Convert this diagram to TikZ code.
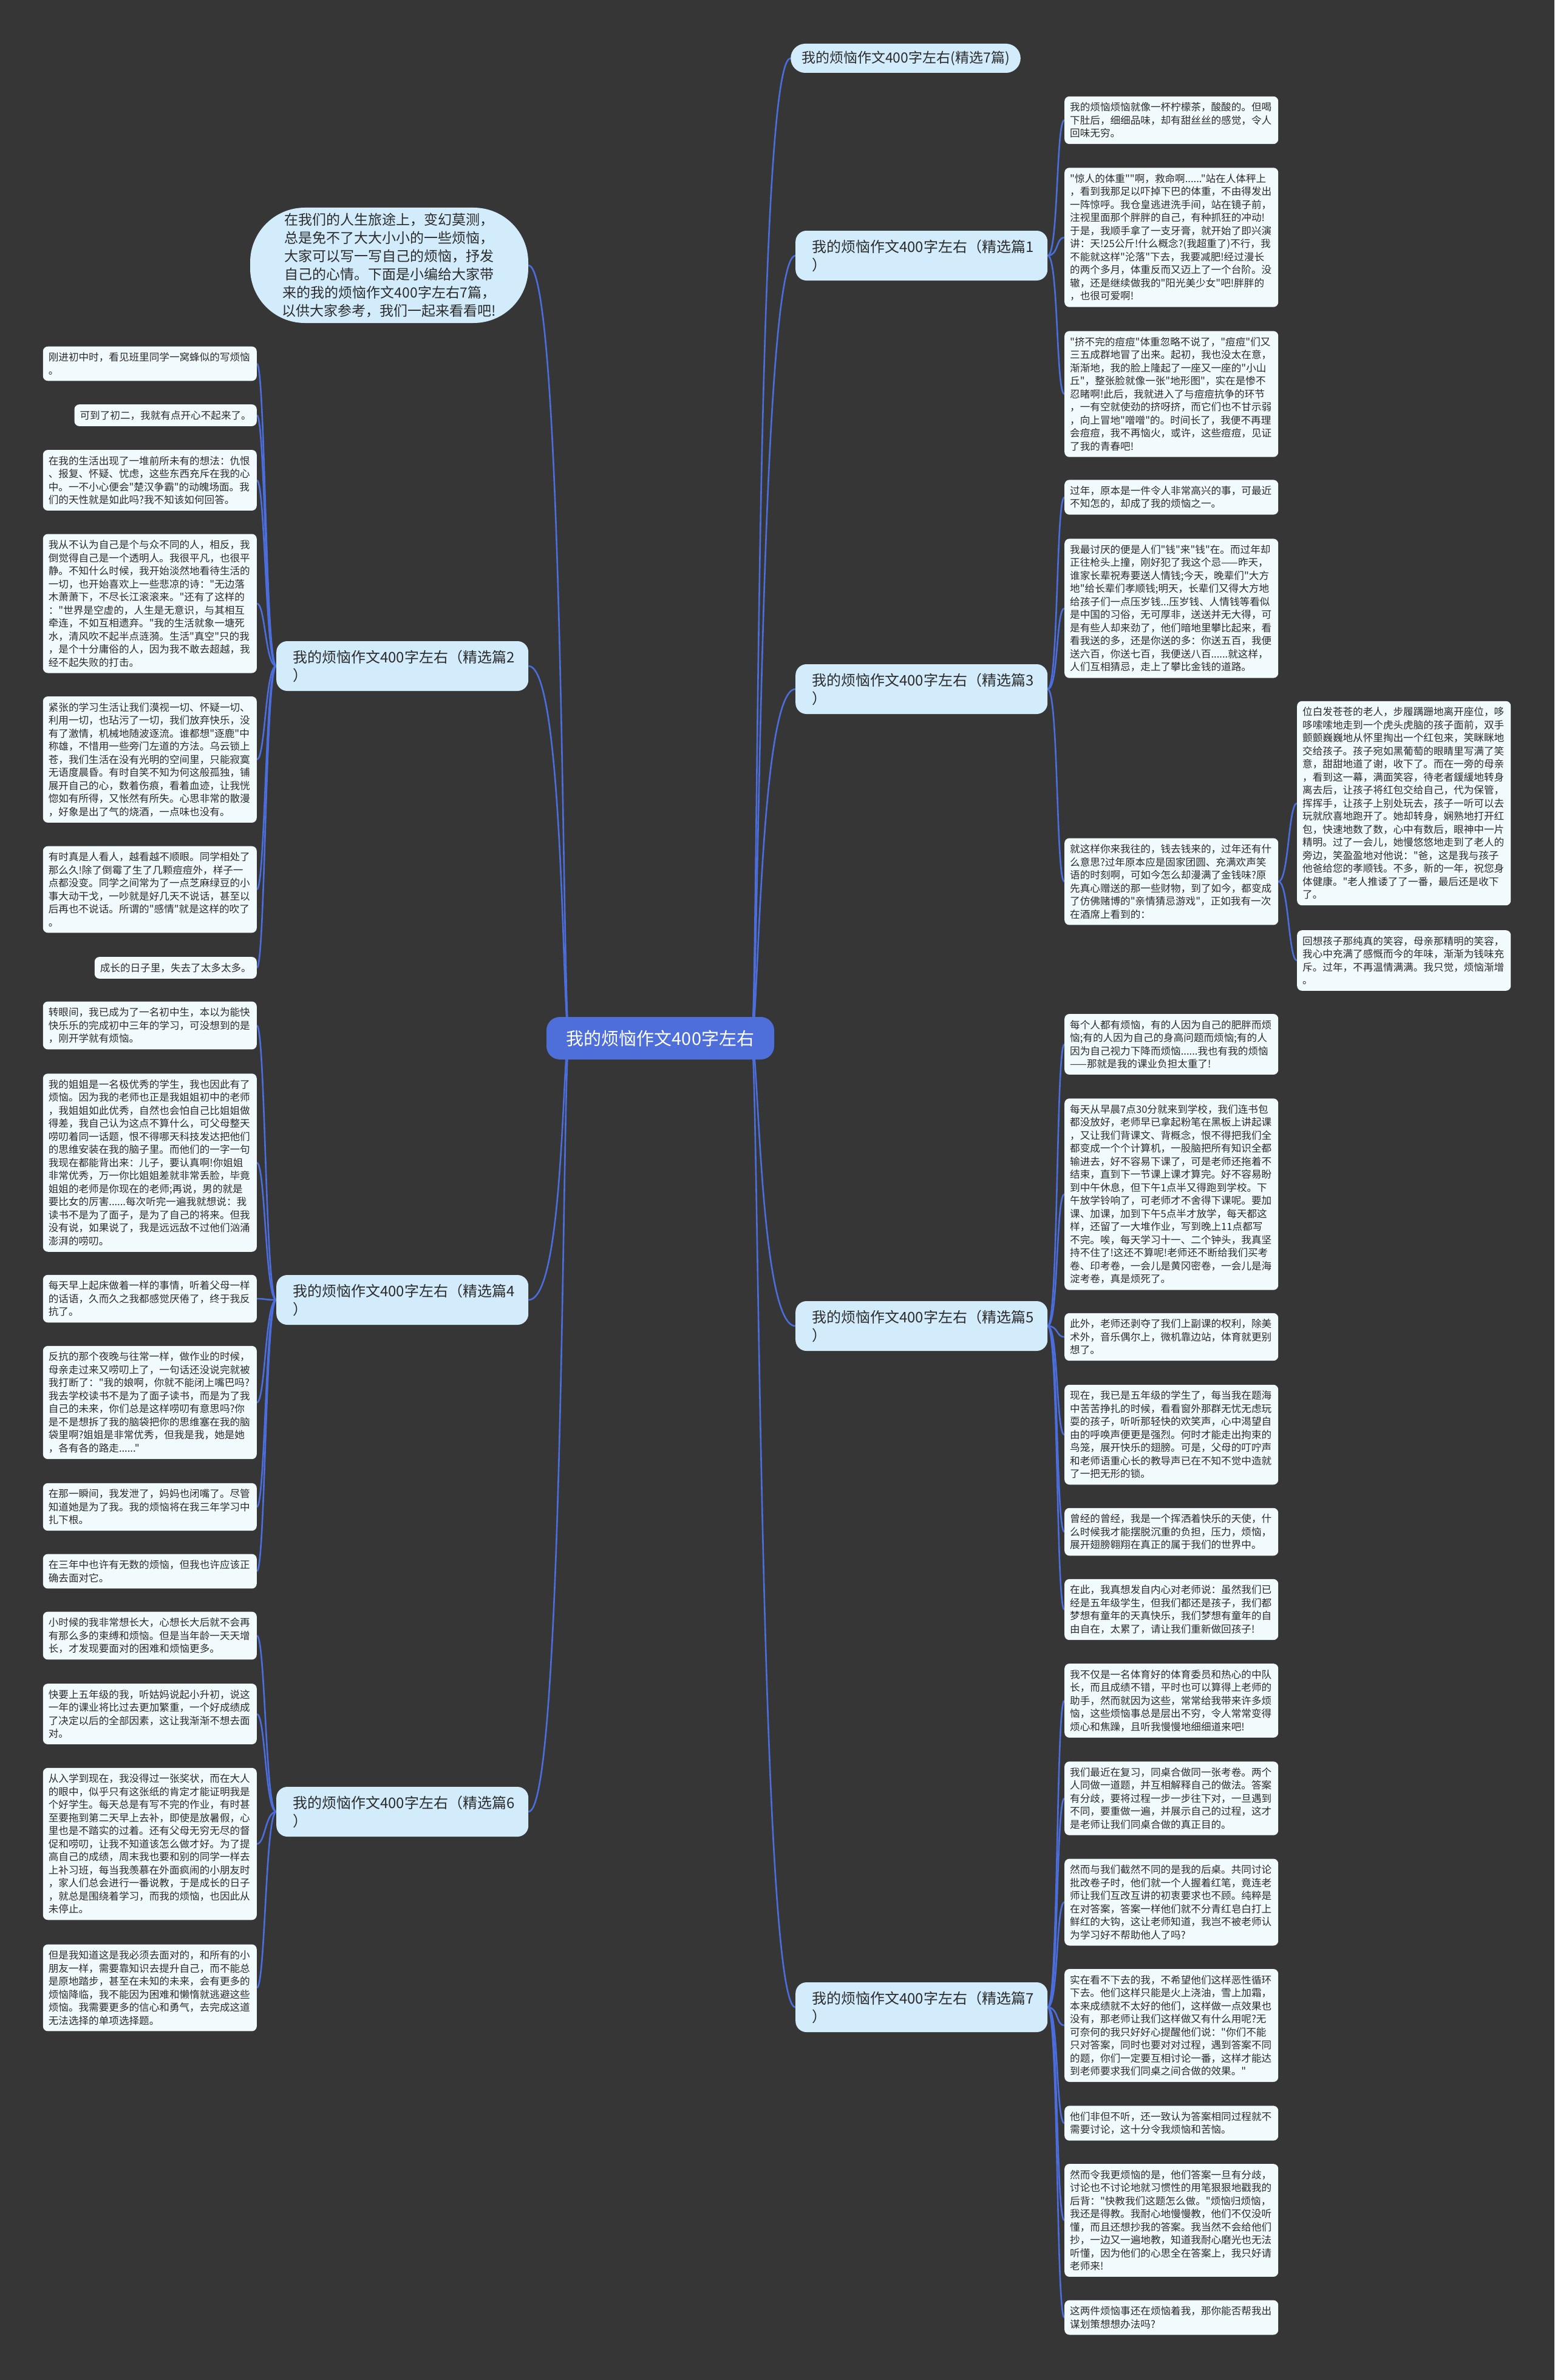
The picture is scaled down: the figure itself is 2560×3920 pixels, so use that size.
\documentclass[tikz,border=0pt]{standalone}
\usepackage{fontspec}
\newfontfamily\cjk{Noto Sans CJK SC}
\usetikzlibrary{calc}
\pgfdeclarelayer{bg}\pgfdeclarelayer{edges}
\pgfsetlayers{bg,edges,main}
\definecolor{bgc}{HTML}{363636}
\definecolor{leafc}{HTML}{F1FAFD}
\definecolor{catc}{HTML}{D2ECFB}
\definecolor{rootc}{HTML}{4E6FDA}
\definecolor{linec}{HTML}{4C6EDD}
\definecolor{textc}{HTML}{2B2B2B}
\newcommand\leaffont{\cjk\fontsize{16.6}{21.5}\selectfont}
\newcommand\catfont{\cjk\fontsize{24}{30}\selectfont}
\newcommand\topfont{\cjk\fontsize{23}{30}\selectfont}
\newcommand\rootfont{\cjk\fontsize{29}{34}\selectfont}
\newcommand\introfont{\cjk\fontsize{23}{30}\selectfont}
\tikzset{
  leaf/.style={fill=leafc, rounded corners=8pt, text=textc, font=\leaffont, inner xsep=9pt, inner ysep=10pt, align=left, text width=334pt},
  leafn/.style={fill=leafc, rounded corners=8pt, text=textc, font=\leaffont, inner xsep=9pt, inner ysep=10pt},
  cat/.style={fill=catc, rounded corners=18pt, text=textc, font=\catfont, inner xsep=27pt, inner ysep=10pt, minimum height=82pt, align=left, text width=361pt},
  topn/.style={fill=catc, rounded corners=24pt, text=textc, font=\topfont, inner xsep=18pt, minimum height=48pt},
  rootn/.style={fill=rootc, rounded corners=22pt, text=white, font=\rootfont, minimum width=375pt, minimum height=70pt},
  intro/.style={fill=catc, rounded corners=90pt, text=textc, font=\introfont, minimum width=458pt, minimum height=190pt, text width=360pt, align=center},
  conn/.style={draw=linec, line width=2.6pt}
}
\begin{document}
\begin{tikzpicture}[x=1pt,y=-1pt]
\useasboundingbox (0,0) rectangle (2560,3920);
\begin{pgfonlayer}{bg}
\fill[bgc] (0,0) rectangle (2560,3920);
\end{pgfonlayer}

% root and main branches
\node[rootn] (root) at (1087.5,1710) {我的烦恼作文400字左右};
\node[topn, anchor=west] (k0) at (1302,96) {我的烦恼作文400字左右(精选7篇)};
\node[cat, anchor=west] (k1) at (1310,421) {我的烦恼作文400字左右（精选篇1\\）};
\node[cat, anchor=west] (k3) at (1310,1135) {我的烦恼作文400字左右（精选篇3\\）};
\node[cat, anchor=west] (k5) at (1310,2184) {我的烦恼作文400字左右（精选篇5\\）};
\node[cat, anchor=west] (k7) at (1310,3306) {我的烦恼作文400字左右（精选篇7\\）};
\node[cat, anchor=west] (k2) at (455,1097) {我的烦恼作文400字左右（精选篇2\\）};
\node[cat, anchor=west] (k4) at (455,2141) {我的烦恼作文400字左右（精选篇4\\）};
\node[cat, anchor=west] (k6) at (455,2984) {我的烦恼作文400字左右（精选篇6\\）};
\node[intro] (intro) at (641,437) {在我们的人生旅途上，变幻莫测，\\总是免不了大大小小的一些烦恼，\\大家可以写一写自己的烦恼，抒发\\自己的心情。下面是小编给大家带\\来的我的烦恼作文400字左右7篇，\\以供大家参考，我们一起来看看吧!};

% 篇1
\node[leaf, anchor=west] (a11) at (1753,198) {我的烦恼烦恼就像一杯柠檬茶，酸酸的。但喝\\下肚后，细细品味，却有甜丝丝的感觉，令人\\回味无穷。};
\node[leaf, anchor=west] (a12) at (1753,391) {"惊人的体重""啊，救命啊......"站在人体秤上\\，看到我那足以吓掉下巴的体重，不由得发出\\一阵惊呼。我仓皇逃进洗手间，站在镜子前，\\注视里面那个胖胖的自己，有种抓狂的冲动!\\于是，我顺手拿了一支牙膏，就开始了即兴演\\讲：天!25公斤!什么概念?(我超重了)不行，我\\不能就这样"沦落"下去，我要减肥!经过漫长\\的两个多月，体重反而又迈上了一个台阶。没\\辙，还是继续做我的"阳光美少女"吧!胖胖的\\，也很可爱啊!};
\node[leaf, anchor=west] (a13) at (1753,649) {"挤不完的痘痘"体重忽略不说了，"痘痘"们又\\三五成群地冒了出来。起初，我也没太在意，\\渐渐地，我的脸上隆起了一座又一座的"小山\\丘"，整张脸就像一张"地形图"，实在是惨不\\忍睹啊!此后，我就进入了与痘痘抗争的环节\\，一有空就使劲的挤呀挤，而它们也不甘示弱\\，向上冒地"噌噌"的。时间长了，我便不再理\\会痘痘，我不再恼火，或许，这些痘痘，见证\\了我的青春吧!};

% 篇3
\node[leaf, anchor=west] (a31) at (1753,819) {过年，原本是一件令人非常高兴的事，可最近\\不知怎的，却成了我的烦恼之一。};
\node[leaf, anchor=west] (a32) at (1753,1002) {我最讨厌的便是人们"钱"来"钱"在。而过年却\\正往枪头上撞，刚好犯了我这个忌——昨天，\\谁家长辈祝寿要送人情钱;今天，晚辈们"大方\\地"给长辈们孝顺钱;明天，长辈们又得大方地\\给孩子们一点压岁钱...压岁钱、人情钱等看似\\是中国的习俗，无可厚非，送送并无大得，可\\是有些人却来劲了，他们暗地里攀比起来，看\\看我送的多，还是你送的多：你送五百，我便\\送六百，你送七百，我便送八百......就这样，\\人们互相猜忌，走上了攀比金钱的道路。};
\node[leaf, anchor=west] (a33) at (1753,1452) {就这样你来我往的，钱去钱来的，过年还有什\\么意思?过年原本应是固家团圆、充满欢声笑\\语的时刻啊，可如今怎么却漫满了金钱味?原\\先真心赠送的那一些财物，到了如今，都变成\\了仿佛赌博的"亲情猜忌游戏"，正如我有一次\\在酒席上看到的：};
\node[leaf, anchor=west] (c1) at (2136,1323) {位白发苍苍的老人，步履蹒跚地离开座位，哆\\哆嗦嗦地走到一个虎头虎脑的孩子面前，双手\\颤颤巍巍地从怀里掏出一个红包来，笑眯眯地\\交给孩子。孩子宛如黑葡萄的眼睛里写满了笑\\意，甜甜地道了谢，收下了。而在一旁的母亲\\，看到这一幕，满面笑容，待老者鍰緩地转身\\离去后，让孩子将红包交给自己，代为保管，\\挥挥手，让孩子上别处玩去，孩子一听可以去\\玩就欣喜地跑开了。她却转身，娴熟地打开红\\包，快速地数了数，心中有数后，眼神中一片\\精明。过了一会儿，她慢悠悠地走到了老人的\\旁边，笑盈盈地对他说："爸，这是我与孩子\\他爸给您的孝顺钱。不多，新的一年，祝您身\\体健康。"老人推诿了了一番，最后还是收下\\了。};
\node[leaf, anchor=west] (c2) at (2136,1582) {回想孩子那纯真的笑容，母亲那精明的笑容，\\我心中充满了感慨而今的年味，渐渐为钱味充\\斥。过年，不再温情满满。我只觉，烦恼渐增\\。};

% 篇5
\node[leaf, anchor=west] (a51) at (1753,1720) {每个人都有烦恼，有的人因为自己的肥胖而烦\\恼;有的人因为自己的身高问题而烦恼;有的人\\因为自己视力下降而烦恼......我也有我的烦恼\\——那就是我的课业负担太重了!};
\node[leaf, anchor=west] (a52) at (1753,1967) {每天从早晨7点30分就来到学校，我们连书包\\都没放好，老师早已拿起粉笔在黑板上讲起课\\，又让我们背课文、背概念，恨不得把我们全\\都变成一个个计算机，一股脑把所有知识全都\\输进去，好不容易下课了，可是老师还拖着不\\结束，直到下一节课上课才算完。好不容易盼\\到中午休息，但下午1点半又得跑到学校。下\\午放学铃响了，可老师才不舍得下课呢。要加\\课、加课，加到下午5点半才放学，每天都这\\样，还留了一大堆作业，写到晚上11点都写\\不完。唉，每天学习十一、二个钟头，我真坚\\持不住了!这还不算呢!老师还不断给我们买考\\卷、印考卷，一会儿是黄冈密卷，一会儿是海\\淀考卷，真是烦死了。};
\node[leaf, anchor=west] (a53) at (1753,2202) {此外，老师还剥夺了我们上副课的权利，除美\\术外，音乐偶尔上，微机靠边站，体育就更别\\想了。};
\node[leaf, anchor=west] (a54) at (1753,2363) {现在，我已是五年级的学生了，每当我在题海\\中苦苦挣扎的时候，看看窗外那群无忧无虑玩\\耍的孩子，听听那轻快的欢笑声，心中渴望自\\由的呼唤声便更是强烈。何时才能走出拘束的\\鸟笼，展开快乐的翅膀。可是，父母的叮咛声\\和老师语重心长的教导声已在不知不觉中造就\\了一把无形的锁。};
\node[leaf, anchor=west] (a55) at (1753,2523) {曾经的曾经，我是一个挥洒着快乐的天使，什\\么时候我才能摆脱沉重的负担，压力，烦恼，\\展开翅膀翱翔在真正的属于我们的世界中。};
\node[leaf, anchor=west] (a56) at (1753,2651) {在此，我真想发自内心对老师说：虽然我们已\\经是五年级学生，但我们都还是孩子，我们都\\梦想有童年的天真快乐，我们梦想有童年的自\\由自在，太累了，请让我们重新做回孩子!};

% 篇7
\node[leaf, anchor=west] (a71) at (1753,2801) {我不仅是一名体育好的体育委员和热心的中队\\长，而且成绩不错，平时也可以算得上老师的\\助手，然而就因为这些，常常给我带来许多烦\\恼，这些烦恼事总是层出不穷，令人常常变得\\烦心和焦躁，且听我慢慢地细细道来吧!};
\node[leaf, anchor=west] (a72) at (1753,2962) {我们最近在复习，同桌合做同一张考卷。两个\\人同做一道题，并互相解释自己的做法。答案\\有分歧，要将过程一步一步往下对，一旦遇到\\不同，要重做一遍，并展示自己的过程，这才\\是老师让我们同桌合做的真正目的。};
\node[leaf, anchor=west] (a73) at (1753,3133) {然而与我们截然不同的是我的后桌。共同讨论\\批改卷子时，他们就一个人握着红笔，竟连老\\师让我们互改互讲的初衷要求也不顾。纯粹是\\在对答案，答案一样他们就不分青红皂白打上\\鲜红的大钩，这让老师知道，我岂不被老师认\\为学习好不帮助他人了吗?};
\node[leaf, anchor=west] (a74) at (1753,3336) {实在看不下去的我，不希望他们这样恶性循环\\下去。他们这样只能是火上浇油，雪上加霜，\\本来成绩就不太好的他们，这样做一点效果也\\没有，那老师让我们这样做又有什么用呢?无\\可奈何的我只好好心提醒他们说："你们不能\\只对答案，同时也要对对过程，遇到答案不同\\的题，你们一定要互相讨论一番，这样才能达\\到老师要求我们同桌之间合做的效果。"};
\node[leaf, anchor=west] (a75) at (1753,3497) {他们非但不听，还一致认为答案相同过程就不\\需要讨论，这十分令我烦恼和苦恼。};
\node[leaf, anchor=west] (a76) at (1753,3657) {然而令我更烦恼的是，他们答案一旦有分歧，\\讨论也不讨论地就习惯性的用笔狠狠地戳我的\\后背："快教我们这题怎么做。"烦恼归烦恼，\\我还是得教。我耐心地慢慢教，他们不仅没听\\懂，而且还想抄我的答案。我当然不会给他们\\抄，一边又一遍地教，知道我耐心磨光也无法\\听懂，因为他们的心思全在答案上，我只好请\\老师来!};
\node[leaf, anchor=west] (a77) at (1753,3817) {这两件烦恼事还在烦恼着我，那你能否帮我出\\谋划策想想办法吗?};

% 篇2
\node[leaf, anchor=east] (b21) at (423,599) {刚进初中时，看见班里同学一窝蜂似的写烦恼\\。};
\node[leafn, anchor=east] (b22) at (423,684) {可到了初二，我就有点开心不起来了。};
\node[leaf, anchor=east] (b23) at (423,791) {在我的生活出现了一堆前所未有的想法：仇恨\\、报复、怀疑、忧虑，这些东西充斥在我的心\\中。一不小心便会"楚汉争霸"的动魄场面。我\\们的天性就是如此吗?我不知该如何回答。};
\node[leaf, anchor=east] (b24) at (423,994) {我从不认为自己是个与众不同的人，相反，我\\倒觉得自己是一个透明人。我很平凡，也很平\\静。不知什么时候，我开始淡然地看待生活的\\一切，也开始喜欢上一些悲凉的诗："无边落\\木萧萧下，不尽长江滚滚来。"还有了这样的\\："世界是空虚的，人生是无意识，与其相互\\牵连，不如互相遗弃。"我的生活就象一塘死\\水，清风吹不起半点涟漪。生活"真空"只的我\\，是个十分庸俗的人，因为我不敢去超越，我\\经不起失败的打击。};
\node[leaf, anchor=east] (b25) at (423,1251) {紧张的学习生活让我们漠视一切、怀疑一切、\\利用一切，也玷污了一切，我们放弃快乐，没\\有了激情，机械地随波逐流。谁都想"逐鹿"中\\称雄，不惜用一些旁门左道的方法。乌云锁上\\苍，我们生活在没有光明的空间里，只能寂寞\\无语度晨昏。有时自笑不知为何这般孤独，铺\\展开自己的心，数着伤痕，看着血迹，让我恍\\惚如有所得，又怅然有所失。心思非常的散漫\\，好象是出了气的烧酒，一点味也没有。};
\node[leaf, anchor=east] (b26) at (423,1465) {有时真是人看人，越看越不顺眼。同学相处了\\那么久!除了倒霉了生了几颗痘痘外，样子一\\点都没变。同学之间常为了一点芝麻绿豆的小\\事大动干戈，一吵就是好几天不说话，甚至以\\后再也不说话。所谓的"感情"就是这样的吹了\\。};
\node[leafn, anchor=east] (b27) at (423,1594) {成长的日子里，失去了太多太多。};

% 篇4
\node[leaf, anchor=east] (b41) at (423,1689) {转眼间，我已成为了一名初中生，本以为能快\\快乐乐的完成初中三年的学习，可没想到的是\\，刚开学就有烦恼。};
\node[leaf, anchor=east] (b42) at (423,1915) {我的姐姐是一名极优秀的学生，我也因此有了\\烦恼。因为我的老师也正是我姐姐初中的老师\\，我姐姐如此优秀，自然也会怕自己比姐姐做\\得差，我自己认为这点不算什么，可父母整天\\唠叨着同一话题，恨不得哪天科技发达把他们\\的思维安装在我的脑子里。而他们的一字一句\\我现在都能背出来：儿子，要认真啊!你姐姐\\非常优秀，万一你比姐姐差就非常丢脸，毕竟\\姐姐的老师是你现在的老师;再说，男的就是\\要比女的厉害......每次听完一遍我就想说：我\\读书不是为了面子，是为了自己的将来。但我\\没有说，如果说了，我是远远敌不过他们汹涌\\澎湃的唠叨。};
\node[leaf, anchor=east] (b43) at (423,2139) {每天早上起床做着一样的事情，听着父母一样\\的话语，久而久之我都感觉厌倦了，终于我反\\抗了。};
\node[leaf, anchor=east] (b44) at (423,2310) {反抗的那个夜晚与往常一样，做作业的时候，\\母亲走过来又唠叨上了，一句话还没说完就被\\我打断了："我的娘啊，你就不能闭上嘴巴吗?\\我去学校读书不是为了面子读书，而是为了我\\自己的未来，你们总是这样唠叨有意思吗?你\\是不是想拆了我的脑袋把你的思维塞在我的脑\\袋里啊?姐姐是非常优秀，但我是我，她是她\\，各有各的路走......"};
\node[leaf, anchor=east] (b45) at (423,2482) {在那一瞬间，我发泄了，妈妈也闭嘴了。尽管\\知道她是为了我。我的烦恼将在我三年学习中\\扎下根。};
\node[leaf, anchor=east] (b46) at (423,2588) {在三年中也许有无数的烦恼，但我也许应该正\\确去面对它。};

% 篇6
\node[leaf, anchor=east] (b61) at (423,2694) {小时候的我非常想长大，心想长大后就不会再\\有那么多的束缚和烦恼。但是当年龄一天天增\\长，才发现要面对的困难和烦恼更多。};
\node[leaf, anchor=east] (b62) at (423,2823) {快要上五年级的我，听姑妈说起小升初，说这\\一年的课业将比过去更加繁重，一个好成绩成\\了决定以后的全部因素，这让我渐渐不想去面\\对。};
\node[leaf, anchor=east] (b63) at (423,3037) {从入学到现在，我没得过一张奖状，而在大人\\的眼中，似乎只有这张纸的肯定才能证明我是\\个好学生。每天总是有写不完的作业，有时甚\\至要拖到第二天早上去补，即使是放暑假，心\\里也是不踏实的过着。还有父母无穷无尽的督\\促和唠叨，让我不知道该怎么做才好。为了提\\高自己的成绩，周末我也要和别的同学一样去\\上补习班，每当我羡慕在外面疯闹的小朋友时\\，家人们总会进行一番说教，于是成长的日子\\，就总是围绕着学习，而我的烦恼，也因此从\\未停止。};
\node[leaf, anchor=east] (b64) at (423,3274) {但是我知道这是我必须去面对的，和所有的小\\朋友一样，需要靠知识去提升自己，而不能总\\是原地踏步，甚至在未知的未来，会有更多的\\烦恼降临，我不能因为困难和懒惰就逃避这些\\烦恼。我需要更多的信心和勇气，去完成这道\\无法选择的单项选择题。};

% connectors
\begin{pgfonlayer}{edges}
\coordinate (rR) at ($(root.center)+(150,0)$);
\coordinate (rL) at ($(root.center)+(-150,0)$);
\foreach \n in {k0,k1,k3,k5,k7}
  \draw[conn] (rR) .. controls +(12,0) and +(-60,0) .. (\n.west);
\foreach \n in {intro,k2,k4,k6}
  \draw[conn] (rL) .. controls +(-12,0) and +(60,0) .. (\n.east);
\foreach \n in {a11,a12,a13}
  \draw[conn] (k1.east) .. controls +(18,0) and +(-14,0) .. (\n.west);
\foreach \n in {a31,a32,a33}
  \draw[conn] (k3.east) .. controls +(18,0) and +(-14,0) .. (\n.west);
\foreach \n in {c1,c2}
  \draw[conn] (a33.east) .. controls +(17,0) and +(-14,0) .. (\n.west);
\foreach \n in {a51,a52,a53,a54,a55,a56}
  \draw[conn] (k5.east) .. controls +(18,0) and +(-14,0) .. (\n.west);
\foreach \n in {a71,a72,a73,a74,a75,a76,a77}
  \draw[conn] (k7.east) .. controls +(18,0) and +(-14,0) .. (\n.west);
\foreach \n in {b21,b22,b23,b24,b25,b26,b27}
  \draw[conn] (k2.west) .. controls +(-18,0) and +(14,0) .. (\n.east);
\foreach \n in {b41,b42,b43,b44,b45,b46}
  \draw[conn] (k4.west) .. controls +(-18,0) and +(14,0) .. (\n.east);
\foreach \n in {b61,b62,b63,b64}
  \draw[conn] (k6.west) .. controls +(-18,0) and +(14,0) .. (\n.east);
\end{pgfonlayer}
\end{tikzpicture}
\end{document}
